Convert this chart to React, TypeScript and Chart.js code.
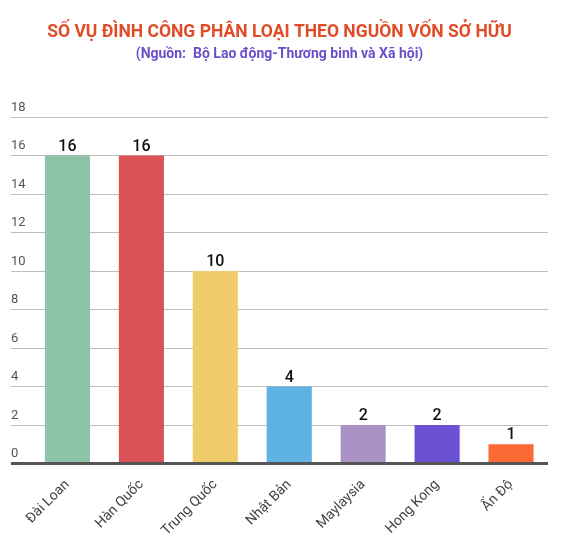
import React, { useEffect, useRef } from "react";
import { Chart, registerables } from "chart.js";

Chart.register(...registerables);

const titleText = "SỐ VỤ ĐÌNH CÔNG PHÂN LOẠI THEO NGUỒN VỐN SỞ HỮU";
const subtitleText = "(Nguồn:  Bộ Lao động-Thương binh và Xã hội)";
const categories = ["Đài Loan", "Hàn Quốc", "Trung Quốc", "Nhật Bản", "Maylaysia", "Hong Kong", "Ấn Độ"];
const values = [16, 16, 10, 4, 2, 2, 1];
const barColors = ["#8dc3a6", "#dc5357", "#f0cb69", "#5eb3e4", "#ab92c6", "#6a51d3", "#fa6a34"];
const yMin = 0;
const yMax = 18;
const yStep = 2;

const valueLabels = {
  id: "valueLabels",
  afterDatasetsDraw(chart: any) {
    const ctx = chart.ctx;
    const meta = chart.getDatasetMeta(0);
    ctx.save();
    ctx.font = "500 16px Roboto";
    ctx.fillStyle = "#111";
    ctx.textAlign = "center";
    ctx.textBaseline = "alphabetic";
    meta.data.forEach((bar: any, i: number) => {
      ctx.fillText(String(chart.data.datasets[0].data[i]), bar.x, bar.y - 5);
    });
    ctx.restore();
  },
};

export default function App() {
  const ref = useRef<HTMLCanvasElement | null>(null);
  useEffect(() => {
    if (!ref.current) return;
    const chart = new Chart(ref.current, {
      type: "bar",
      data: {
        labels: categories,
        datasets: [
          {
            data: values,
            backgroundColor: barColors,
            borderWidth: 0,
            barPercentage: 0.61,
            categoryPercentage: 1,
          },
        ],
      },
      options: {
        animation: false,
        responsive: true,
        maintainAspectRatio: false,
        layout: { padding: { left: 3, right: 20, top: 0, bottom: 0 } },
        plugins: {
          legend: { display: false },
          tooltip: { enabled: false },
          title: {
            display: true,
            text: titleText,
            color: "#df4d27",
            font: { family: "Roboto", size: 17.5, weight: "bold", lineHeight: 1 },
            padding: { top: 15.75, bottom: 0 },
          },
          subtitle: {
            display: true,
            text: subtitleText,
            color: "#6a4fc8",
            font: { family: "Roboto", size: 14, weight: "bold", lineHeight: 1 },
            padding: { top: 6.5, bottom: 55.25 },
          },
        },
        scales: {
          x: {
            grid: { display: false },
            border: { display: false },
            afterFit: (scale: any) => {
              scale.height = 77.5;
            },
            ticks: {
              minRotation: 45,
              maxRotation: 45,
              color: "#444",
              font: { family: "Roboto", size: 14 },
              padding: 5,
            },
          },
          y: {
            min: yMin,
            max: yMax,
            border: { display: false },
            afterFit: (scale: any) => {
              scale.width = 19.5;
            },
            grid: {
              color: (c: any) => (c.tick && c.tick.value === 0 ? "#555" : "#bdbdbd"),
              lineWidth: (c: any) => (c.tick && c.tick.value === 0 ? 3 : 1),
              drawTicks: true,
              tickLength: 19.5,
            },
            ticks: {
              stepSize: yStep,
              crossAlign: "far",
              labelOffset: -9.5,
              padding: 0,
              color: "#555",
              font: { family: "Roboto", size: 13 },
            },
          },
        },
      },
      plugins: [valueLabels],
    });
    return () => chart.destroy();
  }, []);
  return (
    <div style={{ position: "relative", width: "560px", height: "533px" }}>
      <canvas ref={ref} />
    </div>
  );
}
